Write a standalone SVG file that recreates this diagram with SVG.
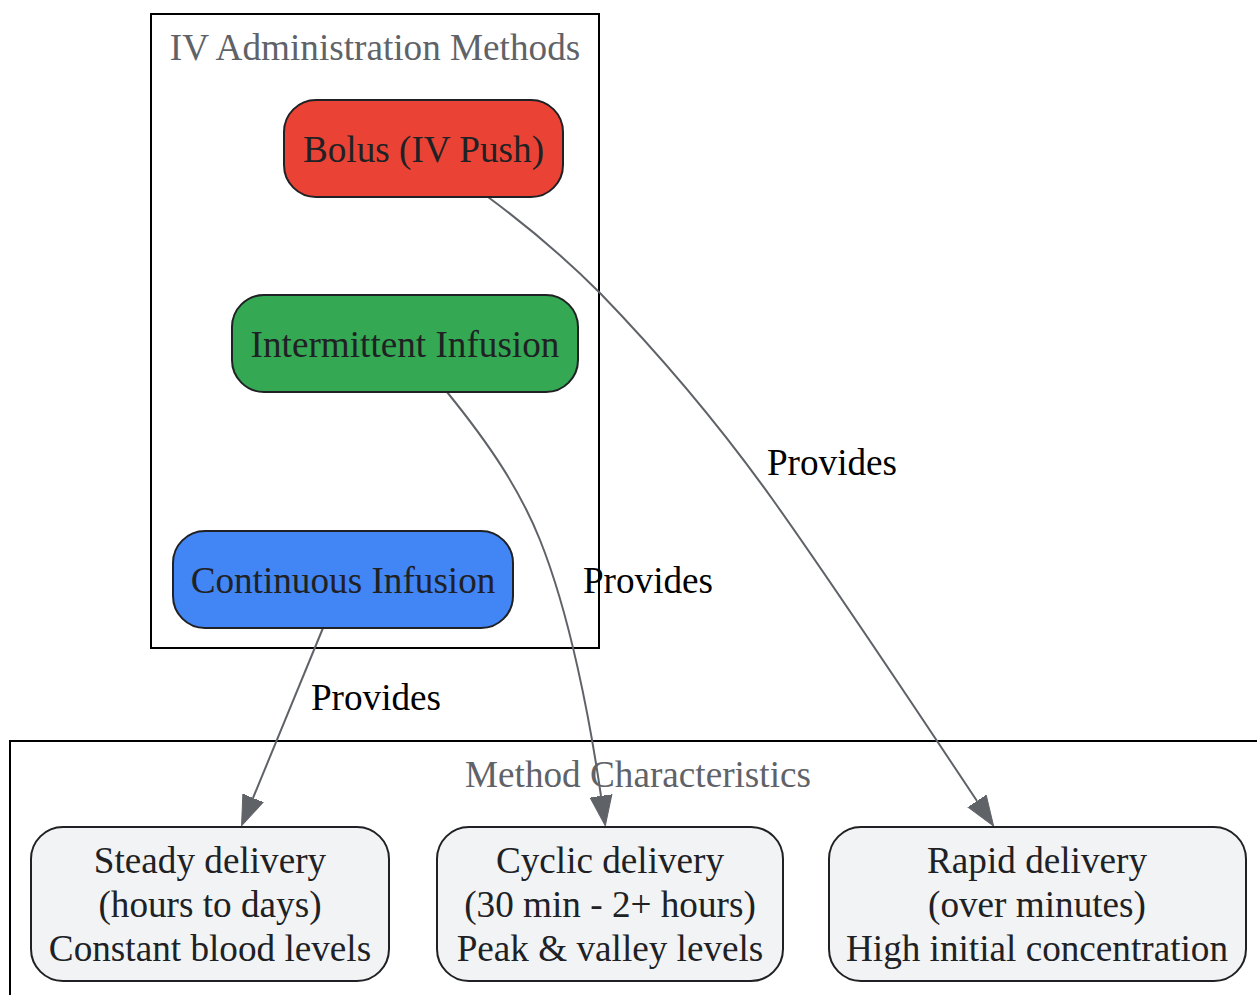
<svg xmlns="http://www.w3.org/2000/svg" width="1257" height="995" viewBox="0 0 1257 995">
<style>
text{font-family:"Liberation Serif","Times New Roman",serif;font-size:37.2px;text-anchor:middle}
.cl{fill:none;stroke:#000;stroke-width:2}
.ct{fill:#5F6368}
.nd{stroke:#202124;stroke-width:2}
.nt{fill:#202124}
.e{fill:none;stroke:#5F6368;stroke-width:2}
.el{fill:#000}
</style>
<defs>
<marker id="ah" markerUnits="userSpaceOnUse" markerWidth="32" markerHeight="24" refX="0" refY="12" orient="auto" viewBox="0 0 32 24">
<path d="M0,1 L30,12 L0,23 z" fill="#5F6368" stroke="#5F6368" stroke-width="1"/>
</marker>
</defs>
<rect width="1257" height="995" fill="#fff"/>
<g id="cluster_methods">
<rect class="cl" x="151" y="14" width="448" height="634"/>
<text class="ct" x="375" y="60">IV Administration Methods</text>
</g>
<g id="cluster_characteristics">
<rect class="cl" x="10" y="741" width="1270" height="280"/>
<text class="ct" x="638" y="787">Method Characteristics</text>
</g>
<g id="connectors">
<path class="e" d="M488,197 C530,228 565,258 600,293 C660,355 723,430 773,500 C830,580 890,670 977,801" marker-end="url(#ah)"/>
<text class="el" x="832" y="475">Provides</text>
<path class="e" d="M447,392 C490,445 520,490 540,540 C570,615 590,720 601,796" marker-end="url(#ah)"/>
<text class="el" x="648" y="593">Provides</text>
<path class="e" d="M323,628 L253,798" marker-end="url(#ah)"/>
<text class="el" x="376" y="710">Provides</text>
</g>
<g id="bolus">
<rect class="nd" x="284" y="100" width="279" height="97" rx="32" fill="#EA4335"/>
<text class="nt" x="423.5" y="162">Bolus (IV Push)</text>
</g>
<g id="intermittent">
<rect class="nd" x="232" y="295" width="346" height="97" rx="32" fill="#34A853"/>
<text class="nt" x="405" y="357">Intermittent Infusion</text>
</g>
<g id="continuous">
<rect class="nd" x="173" y="531" width="340" height="97" rx="32" fill="#4285F4"/>
<text class="nt" x="343" y="593">Continuous Infusion</text>
</g>
<g id="steady">
<rect class="nd" x="31" y="827" width="358" height="154" rx="32" fill="#F1F3F4"/>
<text class="nt" x="210" y="873">Steady delivery</text>
<text class="nt" x="210" y="917">(hours to days)</text>
<text class="nt" x="210" y="961">Constant blood levels</text>
</g>
<g id="cyclic">
<rect class="nd" x="437" y="827" width="346" height="154" rx="32" fill="#F1F3F4"/>
<text class="nt" x="610" y="873">Cyclic delivery</text>
<text class="nt" x="610" y="917">(30 min - 2+ hours)</text>
<text class="nt" x="610" y="961">Peak &amp; valley levels</text>
</g>
<g id="rapid">
<rect class="nd" x="829" y="827" width="417" height="154" rx="32" fill="#F1F3F4"/>
<text class="nt" x="1037" y="873">Rapid delivery</text>
<text class="nt" x="1037" y="917">(over minutes)</text>
<text class="nt" x="1037" y="961">High initial concentration</text>
</g>
</svg>
